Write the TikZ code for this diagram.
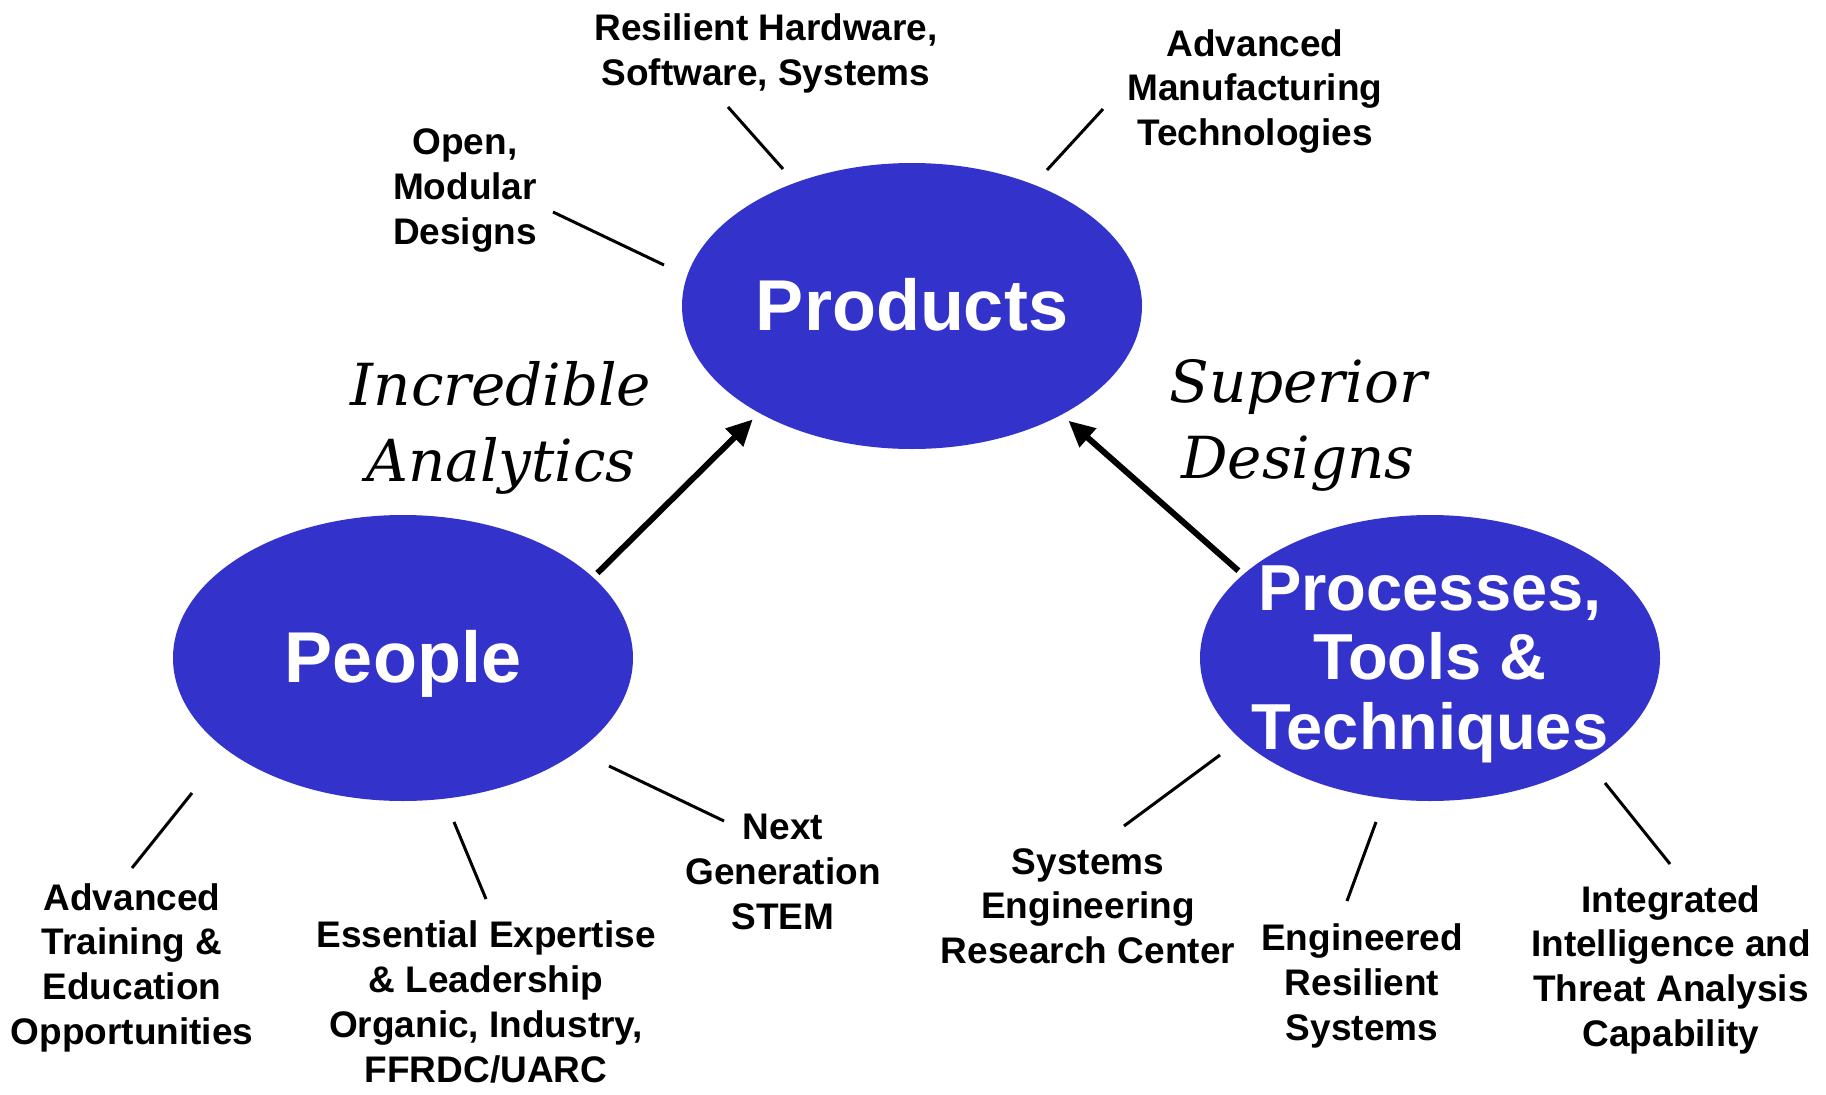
\documentclass[tikz,border=0pt]{standalone}
\usepackage{fontspec}
\setmainfont{Liberation Sans}
\newfontfamily\sloganfont{DejaVu Serif}
\usetikzlibrary{arrows.meta,shapes.geometric}
\definecolor{pillar}{RGB}{51,51,204}

\begin{document}
\begin{tikzpicture}[x=1pt,y=-1pt,
  hub/.style={shape=ellipse, fill=pillar, draw=none, inner sep=0pt,
    minimum width=460pt, minimum height=286pt},
  hubtext/.style={text=white, align=center, inner sep=0pt,
    font=\bfseries\fontsize{72}{80}\selectfont},
  hubsmall/.style={hubtext, font=\bfseries\fontsize{65}{69.5}\selectfont},
  tag/.style={align=center, inner sep=0pt,
    font=\bfseries\fontsize{37}{44.7}\selectfont},
  theme/.style={align=center, inner sep=0pt,
    font=\sloganfont\itshape\fontsize{58}{76}\selectfont},
  tie/.style={line width=3pt},
  push/.style={line width=6pt, shorten <=6pt, shorten >=9pt,
    -{Triangle[length=26pt,width=24pt]}}]

\useasboundingbox (0,0) rectangle (1826,1095);

% the three pillars
\node[hub] (prod) at (912,306) {};
\node[hubtext] (prodtext) at (912,305) {Products};
\node[hub] (ppl) at (403,658) {};
\node[hubtext] (ppltext) at (403,664) {People};
\node[hub] (proc) at (1430,658) {};
\node[hubsmall] (proctext) at (1430,664) {Processes,\\Tools \&\\Techniques};

% arrows into Products
\draw[push] (ppl.23.3) -- (prod.215.4);
\draw[push] (proc.156.8) -- (prod.324.6);

% slogans
\node[theme] (analytics) at (501,428) {Incredible\\Analytics};
\node[theme] (designs) at (1298,425) {Superior\\Designs};

% Products attributes
\node[tag] (open) at (465,190.5) {Open,\\Modular\\Designs};
\node[tag] (resil) at (766,53.5) {Resilient Hardware,\\Software, Systems};
\node[tag] (manuf) at (1255,91.5) {Advanced\\Manufacturing\\Technologies};
\coordinate (open1) at (553,212);  \coordinate (open2) at (664,265);
\coordinate (resil1) at (728,107); \coordinate (resil2) at (783,169);
\coordinate (manuf1) at (1103,109); \coordinate (manuf2) at (1047,170);
\draw[tie] (open1) -- (open2);
\draw[tie] (resil1) -- (resil2);
\draw[tie] (manuf1) -- (manuf2);

% People attributes
\node[tag] (train) at (132,967.5) {Advanced\\Training \&\\Education\\Opportunities};
\node[tag] (expert) at (486,1002) {Essential Expertise\\\& Leadership\\Organic, Industry,\\FFRDC/UARC};
\node[tag] (stem) at (783,872) {Next\\Generation\\STEM};
\coordinate (train1) at (192,793);  \coordinate (train2) at (132,868);
\coordinate (expert1) at (454,822); \coordinate (expert2) at (486,899);
\coordinate (stem1) at (609,766);   \coordinate (stem2) at (724,821);
\draw[tie] (train1) -- (train2);
\draw[tie] (expert1) -- (expert2);
\draw[tie] (stem1) -- (stem2);

% Processes attributes
\node[tag] (serc) at (1088,906) {Systems\\Engineering\\Research Center};
\node[tag] (ers) at (1362,986) {Engineered\\Resilient\\Systems};
\node[tag] (intel) at (1671,969.5) {Integrated\\Intelligence and\\Threat Analysis\\Capability};
\coordinate (serc1) at (1220,755); \coordinate (serc2) at (1124,826);
\coordinate (ers1) at (1376,822);  \coordinate (ers2) at (1347,901);
\coordinate (intel1) at (1605,783); \coordinate (intel2) at (1670,864);
\draw[tie] (serc1) -- (serc2);
\draw[tie] (ers1) -- (ers2);
\draw[tie] (intel1) -- (intel2);
\end{tikzpicture}
\end{document}
